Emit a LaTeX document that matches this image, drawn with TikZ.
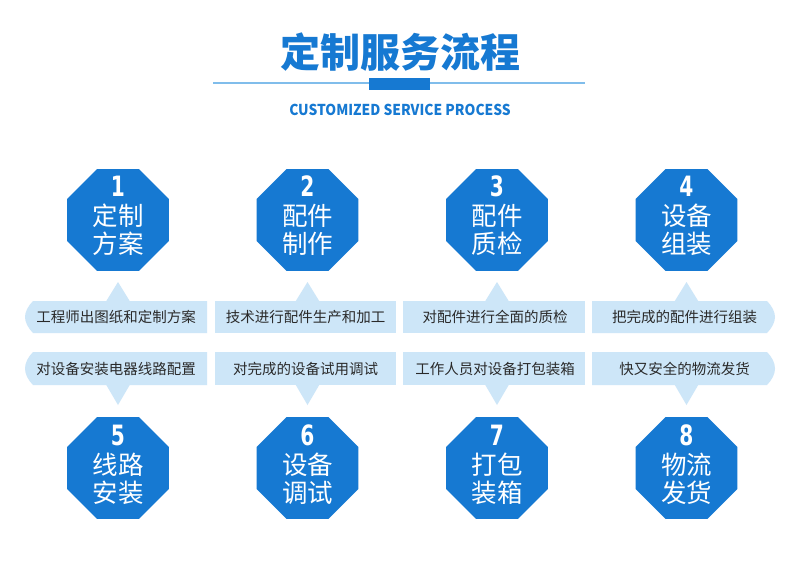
\documentclass[tikz,border=0pt]{standalone}
\usepackage{fontspec}
\setmainfont{Noto Sans CJK SC}
\newfontfamily\cjk{Noto Sans CJK SC}
\newfontfamily\numfont{DejaVu Sans}
\usetikzlibrary{shapes.geometric}
\definecolor{mainblue}{HTML}{1679D2}
\definecolor{barblue}{HTML}{CDE6F8}
\definecolor{lineblue}{HTML}{80BDEB}
\definecolor{txtgray}{HTML}{2A2A2A}
\tikzset{
  oct/.style={regular polygon, regular polygon sides=8, fill=mainblue, minimum size=110pt, inner sep=0pt, draw=none},
  numlbl/.style={text=white, font=\numfont\bfseries\fontsize{28}{28}\selectfont, inner sep=0pt},
  octlbl/.style={text=white, font=\cjk\fontsize{25.5}{28}\selectfont, inner sep=0pt},
  bartxt/.style={text=txtgray, font=\cjk\fontsize{14.5}{16}\selectfont, inner sep=0pt},
  barfill/.style={fill=barblue, draw=none},
  titlestyle/.style={text=mainblue, font=\cjk\bfseries\fontsize{40}{40}\selectfont, inner sep=0pt},
  substyle/.style={text=mainblue, font=\cjk\bfseries\fontsize{15}{15}\selectfont, inner sep=0pt},
}
\begin{document}
\begin{tikzpicture}[x=1pt,y=-1pt]
\useasboundingbox (0,0) rectangle (800,560);
\fill[white] (0,0) rectangle (800,560);
% title
\node[titlestyle] (title) at (400,52) {定制服务流程};
\draw[lineblue, line width=2.5pt] (213,83) -- (585,83);
\fill[mainblue] (369,78) rectangle (430,90);
\node[substyle] (sub) at (400,110) {\scalebox{0.92}[1]{CUSTOMIZED SERVICE PROCESS}};
% octagons top row
\foreach \i/\num/\la/\lb in {0/1/定制/方案, 1/2/配件/制作, 2/3/配件/质检, 3/4/设备/组装} {
  \pgfmathsetmacro\cx{118+189.5*\i}
  \node[oct] (oct\num) at (\cx,220) {};
  \node[numlbl] (num\num) at (\cx,186) {\scalebox{0.72}[1]{\num}};
  \node[octlbl] (la\num) at (\cx,216) {\la};
  \node[octlbl] (lb\num) at (\cx,244) {\lb};
}
% octagons bottom row
\foreach \i/\num/\la/\lb in {0/5/线路/安装, 1/6/设备/调试, 2/7/打包/装箱, 3/8/物流/发货} {
  \pgfmathsetmacro\cx{118+189.5*\i}
  \node[oct] (oct\num) at (\cx,468) {};
  \node[numlbl] (num\num) at (\cx,435) {\scalebox{0.72}[1]{\num}};
  \node[octlbl] (la\num) at (\cx,465) {\la};
  \node[octlbl] (lb\num) at (\cx,493) {\lb};
}
% bars top row
\fill[barfill] (33,301) -- (207,301) -- (207,333) -- (33,333) .. controls (28,328) and (25,322) .. (25,317) .. controls (25,312) and (28,306) .. (33,301) -- cycle;
\fill[barfill] (215,301) rectangle (396,333);
\fill[barfill] (403,301) rectangle (585,333);
\fill[barfill] (592,301) -- (767,301) .. controls (772,306) and (775,312) .. (775,317) .. controls (775,322) and (772,328) .. (767,333) -- (592,333) -- cycle;
% bars bottom row
\fill[barfill] (33,352) -- (207,352) -- (207,385) -- (33,385) .. controls (28,380) and (25,374) .. (25,368.5) .. controls (25,363) and (28,357) .. (33,352) -- cycle;
\fill[barfill] (215,352) rectangle (396,385);
\fill[barfill] (403,352) rectangle (585,385);
\fill[barfill] (592,352) -- (767,352) .. controls (772,357) and (775,363) .. (775,368.5) .. controls (775,374) and (772,380) .. (767,385) -- (592,385) -- cycle;
% pointers
\foreach \i in {0,1,2,3} {
  \pgfmathsetmacro\cx{118+189.5*\i}
  \fill[barfill] (\cx-12,301.5) -- (\cx,282) -- (\cx+12,301.5) -- cycle;
  \fill[barfill] (\cx-12,384.5) -- (\cx,405) -- (\cx+12,384.5) -- cycle;
}
% bar texts
\foreach \i/\ta/\tb in {0/工程师出图纸和定制方案/对设备安装电器线路配置, 1/技术进行配件生产和加工/对完成的设备试用调试, 2/对配件进行全面的质检/工作人员对设备打包装箱, 3/把完成的配件进行组装/快又安全的物流发货} {
  \pgfmathsetmacro\cx{116+189.5*\i}
  \node[bartxt] (ta\i) at (\cx,317) {\ta};
  \node[bartxt] (tb\i) at (\cx,368.5) {\tb};
}
\end{tikzpicture}
\end{document}
